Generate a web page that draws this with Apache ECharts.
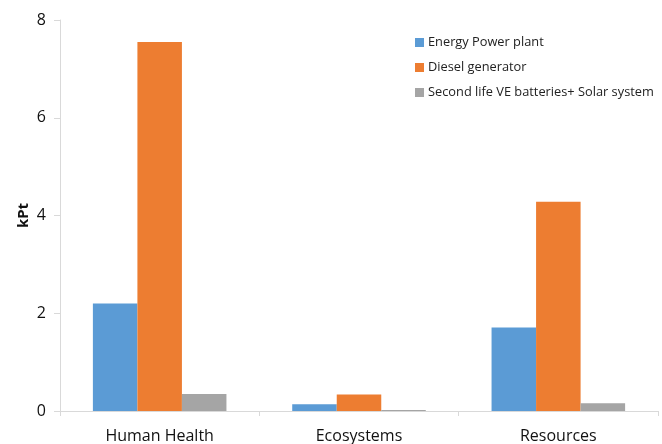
<!DOCTYPE html>
<html>
<head>
<meta charset="utf-8">
<script src="https://cdn.jsdelivr.net/npm/echarts@6/dist/echarts.min.js"></script>
<style>html,body{margin:0;padding:0;background:#fff;}#c{width:662px;height:444px;}</style>
</head>
<body>
<div id="c"></div>
<script>
const categories = ["Human Health", "Ecosystems", "Resources"];
const energyPowerPlant = [2.20, 0.14, 1.71];
const dieselGenerator = [7.55, 0.34, 4.28];
const secondLife = [0.35, 0.02, 0.16];
const seriesNames = ["Energy Power plant", "Diesel generator", "Second life VE batteries+ Solar system"];
const colors = ["#5B9BD5", "#ED7D31", "#A5A5A5"];

const chart = echarts.init(document.getElementById('c'), null, {renderer: 'canvas'});
const font = "Open Sans";
chart.setOption({
  animation: false,
  textStyle: {fontFamily: font},
  grid: {left: 60, right: 4, top: 20, bottom: 31},
  legend: {
    orient: 'vertical', left: 410, top: 31, itemWidth: 9, itemHeight: 9, itemGap: 12,
    icon: 'rect',
    textStyle: {fontSize: 12.8, color: '#222', fontFamily: font, padding: [0, 0, 0, -1]},
    data: seriesNames
  },
  xAxis: {
    type: 'category', data: categories,
    axisLine: {lineStyle: {color: '#d9d9d9', width: 1}},
    axisTick: {show: true, length: 5, lineStyle: {color: '#d9d9d9'}},
    axisLabel: {fontSize: 16, color: '#111', margin: 17, fontFamily: font}
  },
  yAxis: {
    type: 'value', min: 0, max: 8, interval: 2,
    name: 'kPt', nameLocation: 'middle', nameGap: 29, nameRotate: 90, nameMoveOverlap: false,
    nameTextStyle: {fontSize: 15, fontWeight: 'bold', color: '#111', fontFamily: font},
    axisLine: {show: true, lineStyle: {color: '#d9d9d9'}},
    axisTick: {show: true, length: 6, lineStyle: {color: '#d9d9d9'}},
    splitLine: {show: false},
    axisLabel: {fontSize: 16, color: '#111', margin: 14, fontFamily: font}
  },
  series: [
    {name: seriesNames[0], type: 'bar', data: energyPowerPlant, itemStyle: {color: colors[0]}, barGap: '0%', barCategoryGap: '33%'},
    {name: seriesNames[1], type: 'bar', data: dieselGenerator, itemStyle: {color: colors[1]}, barGap: '0%', barCategoryGap: '33%'},
    {name: seriesNames[2], type: 'bar', data: secondLife, itemStyle: {color: colors[2]}, barGap: '0%', barCategoryGap: '33%'}
  ]
});
</script>
</body>
</html>
